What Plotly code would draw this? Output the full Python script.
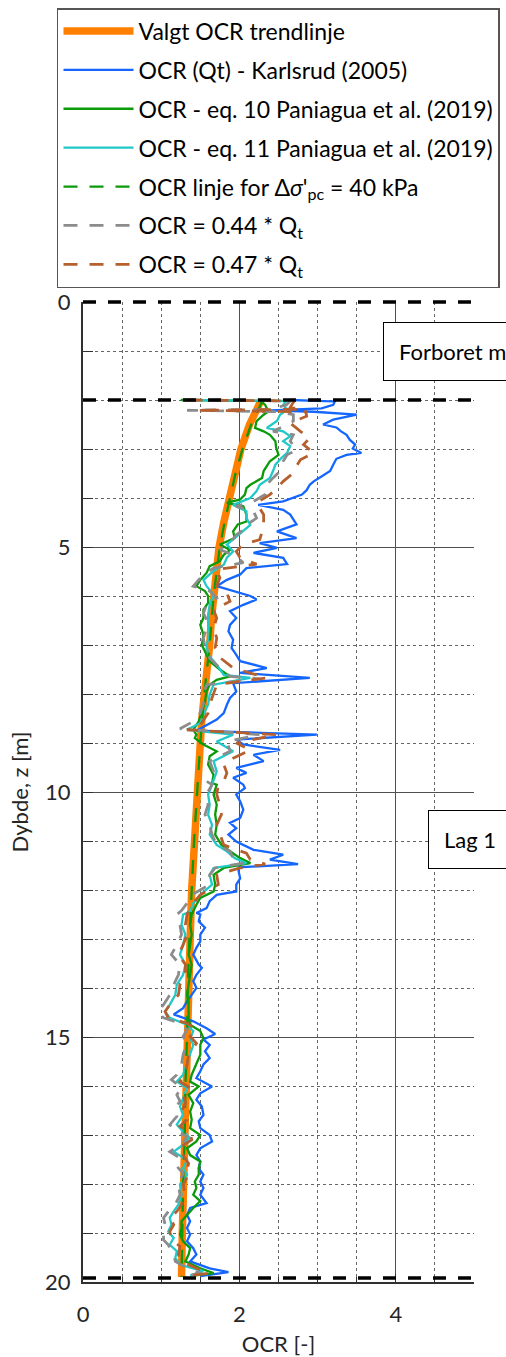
import plotly.graph_objects as go

# ---------------- data (depth z [m], OCR [-]) ----------------
trend_z = [2.0, 2.5, 3.0, 3.5, 4.0, 4.5, 5.0, 5.5, 6.0, 6.5, 7.0, 7.5, 8.0, 8.5, 9.0, 9.5, 10, 11, 12, 13, 14, 15, 16, 17, 18, 19, 19.9]
trend_ocr = [2.28, 2.13, 2.02, 1.94, 1.87, 1.80, 1.74, 1.70, 1.67, 1.64, 1.62, 1.58, 1.55, 1.52, 1.50, 1.48, 1.46, 1.42, 1.39, 1.37, 1.35, 1.33, 1.31, 1.29, 1.28, 1.27, 1.26]

line40_z = [2.0, 2.5, 3.0, 3.5, 4.0, 4.5, 5.0, 6.0, 7.0, 8.0, 9.0, 10, 11, 12, 13, 14, 15, 16, 17, 18, 19, 19.9]
line40_ocr = [2.30, 2.15, 2.04, 1.95, 1.88, 1.81, 1.75, 1.67, 1.62, 1.55, 1.50, 1.46, 1.42, 1.39, 1.36, 1.34, 1.33, 1.31, 1.30, 1.28, 1.27, 1.26]

karl_z = [2.00, 2.03, 2.10, 2.17, 2.21, 2.24, 2.30, 2.40, 2.50, 2.56, 2.64, 2.71, 2.81, 2.91, 2.99, 3.08, 3.12, 3.20, 3.32, 3.45, 3.56, 3.66, 3.73, 3.84, 3.93, 4.07, 4.14, 4.24, 4.34, 4.48,
          4.54, 4.68, 4.82, 4.92, 5.02, 5.12, 5.22, 5.35, 5.43, 5.56, 5.67, 5.80, 5.90, 6.00, 6.07, 6.18, 6.31, 6.45, 6.59, 6.72, 6.89, 7.06,
          7.20, 7.33, 7.47, 7.57, 7.67, 7.78, 7.95, 8.08, 8.22, 8.39, 8.52, 8.66, 8.75, 8.83, 8.93, 9.03, 9.14, 9.24, 9.37, 9.51, 9.61, 9.71, 9.85,
          9.92, 10.05, 10.19, 10.36, 10.53, 10.63, 10.74, 10.87, 11.01, 11.18, 11.28, 11.38, 11.47, 11.54, 11.62, 11.76, 11.89, 12.03, 12.10, 12.23, 12.37, 12.47,
          12.50, 12.64, 12.77, 12.91, 13.05, 13.18, 13.32, 13.52, 13.59, 13.73, 13.86, 14.00, 14.14, 14.27, 14.41, 14.54, 14.68, 14.82, 14.94, 15.05, 15.16,
          15.29, 15.43, 15.56, 15.70, 15.84, 16.01, 16.15, 16.28, 16.42, 16.59, 16.72, 16.86, 17.00, 17.13, 17.27, 17.41, 17.54, 17.68, 17.81,
          17.95, 18.08, 18.22, 18.39, 18.49, 18.63, 18.76, 18.90, 19.03, 19.17, 19.31, 19.44, 19.58, 19.72, 19.80, 19.85, 19.88]
karl_ocr = [2.65, 3.22, 3.20, 3.05, 2.40, 2.95, 3.50, 3.20, 3.07, 3.24, 3.30, 3.37, 3.41, 3.48, 3.45, 3.56, 3.37, 3.24, 3.20, 3.16, 3.05, 2.95, 2.90, 2.86, 2.80, 2.56, 2.24, 2.56, 2.65, 2.71,
            2.73, 2.48, 2.73, 2.26, 2.48, 2.18, 2.56, 2.61, 2.09, 2.01, 1.84, 1.71, 1.92, 2.14, 2.22, 2.05, 1.88, 1.96, 1.88, 1.86, 1.92, 1.90,
            1.96, 2.01, 2.35, 2.01, 2.90, 1.92, 1.96, 1.88, 1.84, 1.80, 1.71, 1.54, 1.45, 2.99, 1.96, 2.05, 2.52, 2.18, 2.31, 1.96, 2.09, 1.92, 2.05,
            2.07, 1.96, 2.01, 2.05, 2.01, 1.88, 1.96, 1.86, 1.96, 2.18, 2.56, 2.39, 2.75, 1.99, 1.99, 2.01, 1.96, 1.96, 1.71, 1.62, 1.58, 1.45,
            1.50, 1.48, 1.56, 1.50, 1.50, 1.45, 1.41, 1.48, 1.52, 1.45, 1.41, 1.45, 1.39, 1.33, 1.28, 1.16, 1.41, 1.58, 1.69, 1.54, 1.62,
            1.56, 1.62, 1.54, 1.50, 1.45, 1.65, 1.50, 1.45, 1.52, 1.54, 1.48, 1.50, 1.62, 1.65, 1.50, 1.45, 1.50, 1.48, 1.54,
            1.50, 1.54, 1.50, 1.58, 1.37, 1.33, 1.37, 1.33, 1.37, 1.33, 1.41, 1.45, 1.37, 1.62, 1.86, 1.62, 1.50]

eq10_z = [2.00, 2.02, 2.10, 2.23, 2.30, 2.43, 2.57, 2.64, 2.71, 2.84, 2.97, 3.12, 3.25, 3.35, 3.45, 3.59, 3.73, 3.80, 3.93, 4.03, 4.10, 4.17, 4.34, 4.48,
          4.54, 4.68, 4.82, 4.95, 5.06, 5.16, 5.29, 5.39, 5.53, 5.67, 5.80, 5.90, 6.00, 6.14, 6.28, 6.45, 6.59, 6.79, 7.00,
          7.20, 7.33, 7.50, 7.64, 7.71, 7.81, 7.95, 8.15, 8.35, 8.56, 8.73, 8.83, 8.90, 9.03, 9.17, 9.27, 9.44, 9.65, 9.82,
          9.85, 10.05, 10.26, 10.46, 10.67, 10.87, 11.08, 11.21, 11.35, 11.45, 11.55, 11.69, 11.89, 12.03, 12.16, 12.30, 12.44,
          12.50, 12.71, 12.91, 13.12, 13.32, 13.52, 13.73, 13.93, 14.14, 14.27, 14.61, 14.75, 14.88, 15.02,
          15.16, 15.36, 15.56, 15.77, 15.91, 16.01, 16.18, 16.35, 16.52, 16.69, 16.86, 17.00, 17.13, 17.27, 17.41, 17.54, 17.68, 17.81,
          17.95, 18.08, 18.22, 18.35, 18.49, 18.63, 18.76, 18.90, 19.03, 19.17, 19.31, 19.44, 19.58, 19.72, 19.82, 19.87]
eq10_ocr = [1.25, 2.27, 2.33, 2.37, 2.31, 2.22, 2.20, 2.31, 2.39, 2.46, 2.47, 2.50, 2.39, 2.35, 2.31, 2.29, 2.14, 2.09, 2.07, 2.01, 1.84, 2.05, 2.09, 2.09,
            1.98, 1.92, 1.94, 1.75, 1.88, 1.80, 1.75, 1.62, 1.58, 1.50, 1.45, 1.56, 1.60, 1.60, 1.54, 1.54, 1.50, 1.54, 1.52,
            1.58, 1.62, 1.75, 1.88, 1.71, 1.62, 1.58, 1.56, 1.52, 1.48, 1.41, 1.45, 1.43, 1.54, 1.71, 1.62, 1.60, 1.67, 1.65,
            1.71, 1.67, 1.71, 1.69, 1.71, 1.69, 1.77, 1.88, 2.01, 2.14, 1.80, 1.67, 1.69, 1.67, 1.50, 1.45, 1.41,
            1.39, 1.37, 1.39, 1.37, 1.35, 1.39, 1.37, 1.35, 1.33, 1.35, 1.35, 1.37, 1.50, 1.54,
            1.50, 1.50, 1.45, 1.39, 1.37, 1.48, 1.35, 1.41, 1.37, 1.39, 1.37, 1.50, 1.45, 1.33, 1.37, 1.50, 1.48, 1.48,
            1.43, 1.45, 1.41, 1.50, 1.41, 1.33, 1.26, 1.26, 1.24, 1.28, 1.37, 1.35, 1.31, 1.50, 1.67, 1.41]

eq11_z = [2.00, 2.02, 2.10, 2.20, 2.30, 2.43, 2.57, 2.64, 2.74, 2.84, 2.94, 3.08, 3.18, 3.32, 3.45, 3.59, 3.73, 3.86, 4.00, 4.14, 4.27, 4.41, 4.55,
          4.75, 4.95, 5.09, 5.22, 5.36, 5.49, 5.67, 5.80, 5.97, 6.18, 6.38, 6.59, 6.79, 7.00, 7.20,
          7.40, 7.61, 7.67, 7.81, 8.01, 8.22, 8.42, 8.59, 8.73, 8.83, 8.97, 9.17, 9.37, 9.58, 9.78,
          9.85, 10.05, 10.26, 10.46, 10.67, 10.87, 11.08, 11.21, 11.35, 11.45, 11.55, 11.69, 11.89, 12.10, 12.27, 12.44,
          12.50, 12.71, 12.91, 13.12, 13.32, 13.52, 13.73, 13.93, 14.14, 14.34, 14.48, 14.61, 14.75, 14.88, 15.02, 15.16,
          15.36, 15.56, 15.77, 15.91, 16.04, 16.25, 16.42, 16.59, 16.79, 16.93, 17.06, 17.20, 17.34, 17.51, 17.68, 17.81,
          18.01, 18.22, 18.42, 18.56, 18.69, 18.83, 18.97, 19.10, 19.24, 19.37, 19.51, 19.65, 19.78, 19.87]
eq11_ocr = [1.30, 2.60, 2.56, 2.61, 2.52, 2.48, 2.35, 2.56, 2.65, 2.56, 2.65, 2.61, 2.54, 2.46, 2.43, 2.39, 2.26, 2.22, 2.14, 1.92, 2.09, 2.09, 2.14,
            1.99, 1.84, 1.92, 1.84, 1.80, 1.67, 1.54, 1.58, 1.67, 1.62, 1.60, 1.60, 1.62, 1.58, 1.60,
            1.71, 1.80, 2.14, 1.67, 1.62, 1.60, 1.54, 1.50, 1.33, 1.92, 1.71, 1.92, 1.67, 1.71, 1.67,
            1.65, 1.60, 1.62, 1.60, 1.65, 1.62, 1.71, 1.84, 1.94, 2.09, 1.67, 1.62, 1.65, 1.50, 1.41, 1.37,
            1.28, 1.26, 1.31, 1.28, 1.24, 1.31, 1.28, 1.20, 1.18, 1.11, 1.05, 1.11, 1.33, 1.41, 1.37, 1.41,
            1.37, 1.33, 1.28, 1.20, 1.33, 1.28, 1.24, 1.28, 1.20, 1.28, 1.37, 1.28, 1.16, 1.33, 1.28, 1.33,
            1.24, 1.26, 1.22, 1.16, 1.11, 1.13, 1.09, 1.16, 1.11, 1.20, 1.18, 1.24, 1.54, 1.37]

q44_z = [2.00, 2.02, 2.10, 2.19, 2.21, 2.24, 2.30, 2.43, 2.57, 2.64, 2.71, 2.84, 3.02, 3.12, 3.25, 3.45, 3.59, 3.73, 3.93, 4.07, 4.17, 4.27, 4.41, 4.55,
         4.61, 4.75, 4.92, 5.05, 5.19, 5.32, 5.43, 5.56, 5.80, 5.90, 6.04, 6.18, 6.35, 6.48, 6.65, 6.86, 7.06,
         7.27, 7.47, 7.64, 7.69, 7.81, 7.98, 8.19, 8.39, 8.56, 8.71, 8.83, 8.97, 9.17, 9.37, 9.58, 9.78,
         9.85, 10.05, 10.26, 10.46, 10.67, 10.87, 11.08, 11.21, 11.35, 11.45, 11.55, 11.69, 11.89, 12.10, 12.27, 12.42,
         12.50, 12.71, 12.91, 13.12, 13.32, 13.52, 13.73, 13.93, 14.14, 14.34, 14.48, 14.61, 14.72, 14.85, 14.99, 15.13,
         15.36, 15.56, 15.77, 15.87, 16.04, 16.18, 16.31, 16.45, 16.62, 16.79, 16.89, 17.03, 17.16, 17.34, 17.47, 17.64, 17.78,
         18.01, 18.22, 18.42, 18.52, 18.69, 18.83, 18.97, 19.14, 19.24, 19.44, 19.58, 19.72, 19.82, 19.87]
q44_ocr = [1.30, 2.65, 2.60, 2.40, 1.33, 2.50, 2.69, 2.69, 2.52, 2.43, 2.69, 2.65, 2.73, 2.61, 2.56, 2.52, 2.43, 2.35, 2.33, 2.18, 1.96, 2.18, 2.22, 2.09,
           2.09, 1.96, 1.88, 1.75, 1.96, 2.05, 1.67, 1.54, 1.41, 1.62, 1.71, 1.58, 1.54, 1.58, 1.58, 1.54, 1.56,
           1.62, 1.75, 1.88, 2.26, 1.58, 1.54, 1.54, 1.50, 1.41, 1.24, 2.26, 1.84, 1.88, 1.62, 1.67, 1.58,
           1.65, 1.58, 1.60, 1.56, 1.62, 1.65, 1.71, 1.88, 1.92, 2.05, 1.69, 1.62, 1.62, 1.39, 1.33, 1.26,
           1.20, 1.24, 1.26, 1.20, 1.13, 1.24, 1.22, 1.16, 1.11, 1.03, 0.96, 1.03, 1.24, 1.33, 1.28, 1.33,
           1.28, 1.26, 1.20, 1.13, 1.26, 1.20, 1.24, 1.18, 1.20, 1.11, 1.16, 1.33, 1.28, 1.11, 1.24, 1.20, 1.28,
           1.22, 1.24, 1.18, 1.11, 1.03, 1.05, 1.03, 1.03, 1.09, 1.16, 1.18, 1.33, 1.50, 1.33]

q47_z = [2.00, 2.02, 2.15, 2.19, 2.21, 2.24, 2.33, 2.47, 2.64, 2.78, 2.91, 3.08, 3.22, 3.35, 3.49, 3.66, 3.80, 3.93, 4.10, 4.20, 4.34, 4.48,
         4.58, 4.85, 4.95, 5.09, 5.22, 5.35, 5.46, 5.63, 5.80, 5.94, 6.11, 6.28, 6.45, 6.65, 6.86, 7.06,
         7.23, 7.47, 7.67, 7.81, 8.01, 8.22, 8.39, 8.63, 8.73, 8.83, 9.00, 9.14, 9.31, 9.44, 9.61, 9.78,
         9.85, 10.05, 10.26, 10.46, 10.67, 10.87, 11.08, 11.25, 11.38, 11.47, 11.55, 11.69, 11.89, 12.10, 12.27, 12.44,
         12.50, 12.71, 12.91, 13.12, 13.32, 13.52, 13.73, 13.93, 14.14, 14.34, 14.48, 14.61, 14.72, 14.85, 14.99, 15.13,
         15.36, 15.56, 15.77, 15.91, 16.04, 16.18, 16.35, 16.52, 16.69, 16.82, 16.96, 17.10, 17.27, 17.41, 17.58, 17.71, 17.81,
         18.01, 18.22, 18.42, 18.56, 18.69, 18.83, 18.97, 19.14, 19.27, 19.44, 19.58, 19.72, 19.82, 19.87]
q47_ocr = [1.35, 2.70, 2.65, 2.80, 1.45, 2.85, 2.86, 2.65, 2.78, 2.90, 2.82, 2.95, 2.78, 2.73, 2.69, 2.56, 2.48, 2.39, 2.22, 2.26, 2.31, 2.31,
           2.31, 2.26, 2.05, 1.96, 2.01, 2.22, 1.71, 1.75, 1.71, 1.84, 1.88, 1.67, 1.71, 1.67, 1.71, 1.69,
           1.73, 1.92, 2.35, 1.71, 1.67, 1.62, 1.60, 1.50, 1.33, 2.48, 1.96, 2.14, 1.92, 1.80, 1.84, 1.80,
           1.73, 1.71, 1.75, 1.77, 1.71, 1.75, 1.80, 2.09, 2.14, 2.33, 2.01, 1.71, 1.73, 1.50, 1.41, 1.35,
           1.33, 1.31, 1.33, 1.28, 1.22, 1.31, 1.31, 1.24, 1.22, 1.11, 1.05, 1.09, 1.33, 1.45, 1.37, 1.45,
           1.35, 1.33, 1.31, 1.24, 1.37, 1.28, 1.31, 1.26, 1.33, 1.24, 1.37, 1.39, 1.22, 1.28, 1.35, 1.33, 1.35,
           1.28, 1.31, 1.26, 1.20, 1.11, 1.16, 1.11, 1.13, 1.24, 1.22, 1.26, 1.45, 1.62, 1.37]

layer_bounds = [2.0, 19.92]
x_ticks = [0, 2, 4]
y_ticks = [0, 5, 10, 15, 20]

FONT = "Lato"
TXT = "#262626"
DASH = "14px,12px"

fig = go.Figure()

def add(name, x, y, color, width, dash="solid"):
    fig.add_trace(go.Scatter(x=x, y=y, mode="lines", name=name,
                             line=dict(color=color, width=width, dash=dash),
                             legendgroup=name))

add("Valgt OCR trendlinje", trend_ocr, trend_z, "#FF7F00", 7.5)
add("OCR (Qt) - Karlsrud (2005)", karl_ocr, karl_z, "#1466FF", 2.3)
add("OCR - eq. 10 Paniagua et al. (2019)", eq10_ocr, eq10_z, "#0A9A0A", 2.3)
add("OCR - eq. 11 Paniagua et al. (2019)", eq11_ocr, eq11_z, "#22C8C8", 2.3)
add("OCR linje for Δ<i>σ</i>'<sub>pc</sub> = 40 kPa", line40_ocr, line40_z, "#0A9A0A", 2.3, DASH)
add("OCR = 0.44 * Q<sub>t</sub>", q44_ocr, q44_z, "#8C8C8C", 2.8, DASH)
add("OCR = 0.47 * Q<sub>t</sub>", q47_ocr, q47_z, "#B5602E", 2.8, DASH)

# top boundary at z = 0 (edge of plot area, drawn unclipped)
fig.add_shape(type="line", xref="paper", yref="paper", x0=0, x1=1, y0=1, y1=1,
              line=dict(color="black", width=3.5, dash="13px,12px"), layer="above")
for yb in layer_bounds:
    fig.add_shape(type="line", xref="x", yref="y", x0=0, x1=5, y0=yb, y1=yb,
                  line=dict(color="black", width=3.5, dash="13px,12px"), layer="above")

fig.add_annotation(x=3.836, y=1.02, xref="x", yref="y", text="Forboret masse",
                   showarrow=False, xanchor="left", yanchor="middle", align="left",
                   font=dict(family=FONT, size=22, color="black"),
                   bgcolor="white", bordercolor="black", borderwidth=1, borderpad=15)
fig.add_annotation(x=4.41, y=10.97, xref="x", yref="y", text="Lag 1",
                   width=130, showarrow=False, xanchor="left", yanchor="middle", align="left",
                   font=dict(family=FONT, size=22, color="black"),
                   bgcolor="white", bordercolor="black", borderwidth=1, borderpad=15)

fig.update_layout(
    width=506, height=1357,
    margin=dict(l=83, r=32, t=302, b=75, autoexpand=False),
    paper_bgcolor="white", plot_bgcolor="white",
    font=dict(family=FONT, size=22, color=TXT),
    showlegend=True,
    legend=dict(x=-0.0665, y=1.3, xanchor="left", yanchor="top",
                bgcolor="white", bordercolor="#555", borderwidth=1.5,
                font=dict(family=FONT, size=23, color="black"),
                itemwidth=70, tracegroupgap=6),
)
fig.update_xaxes(range=[0, 5], tickvals=x_ticks, showgrid=True, gridcolor="#505050", gridwidth=1.2,
                 zeroline=False, showline=True, linecolor="#303030", linewidth=2,
                 ticks="inside", ticklen=8, tickcolor="#303030", ticklabelstandoff=12,
                 minor=dict(dtick=0.5, showgrid=True, gridcolor="#666", griddash="dot", gridwidth=1,
                            ticks="inside", ticklen=5, tickcolor="#303030"),
                 title=dict(text="OCR [-]", font=dict(size=22, color=TXT), standoff=12),
                 tickfont=dict(size=22, color=TXT))
fig.update_yaxes(range=[20, 0], tickvals=y_ticks, showgrid=True, gridcolor="#505050", gridwidth=1.2,
                 zeroline=False, showline=True, linecolor="#303030", linewidth=2,
                 ticks="inside", ticklen=10, tickcolor="#303030", ticklabelstandoff=6,
                 minor=dict(dtick=1, showgrid=True, gridcolor="#666", griddash="dot", gridwidth=1,
                            ticks="inside", ticklen=10, tickcolor="#303030"),
                 title=dict(text="Dybde, z [m]", font=dict(size=22, color=TXT), standoff=10),
                 tickfont=dict(size=22, color=TXT))

fig.write_html("out.html")
